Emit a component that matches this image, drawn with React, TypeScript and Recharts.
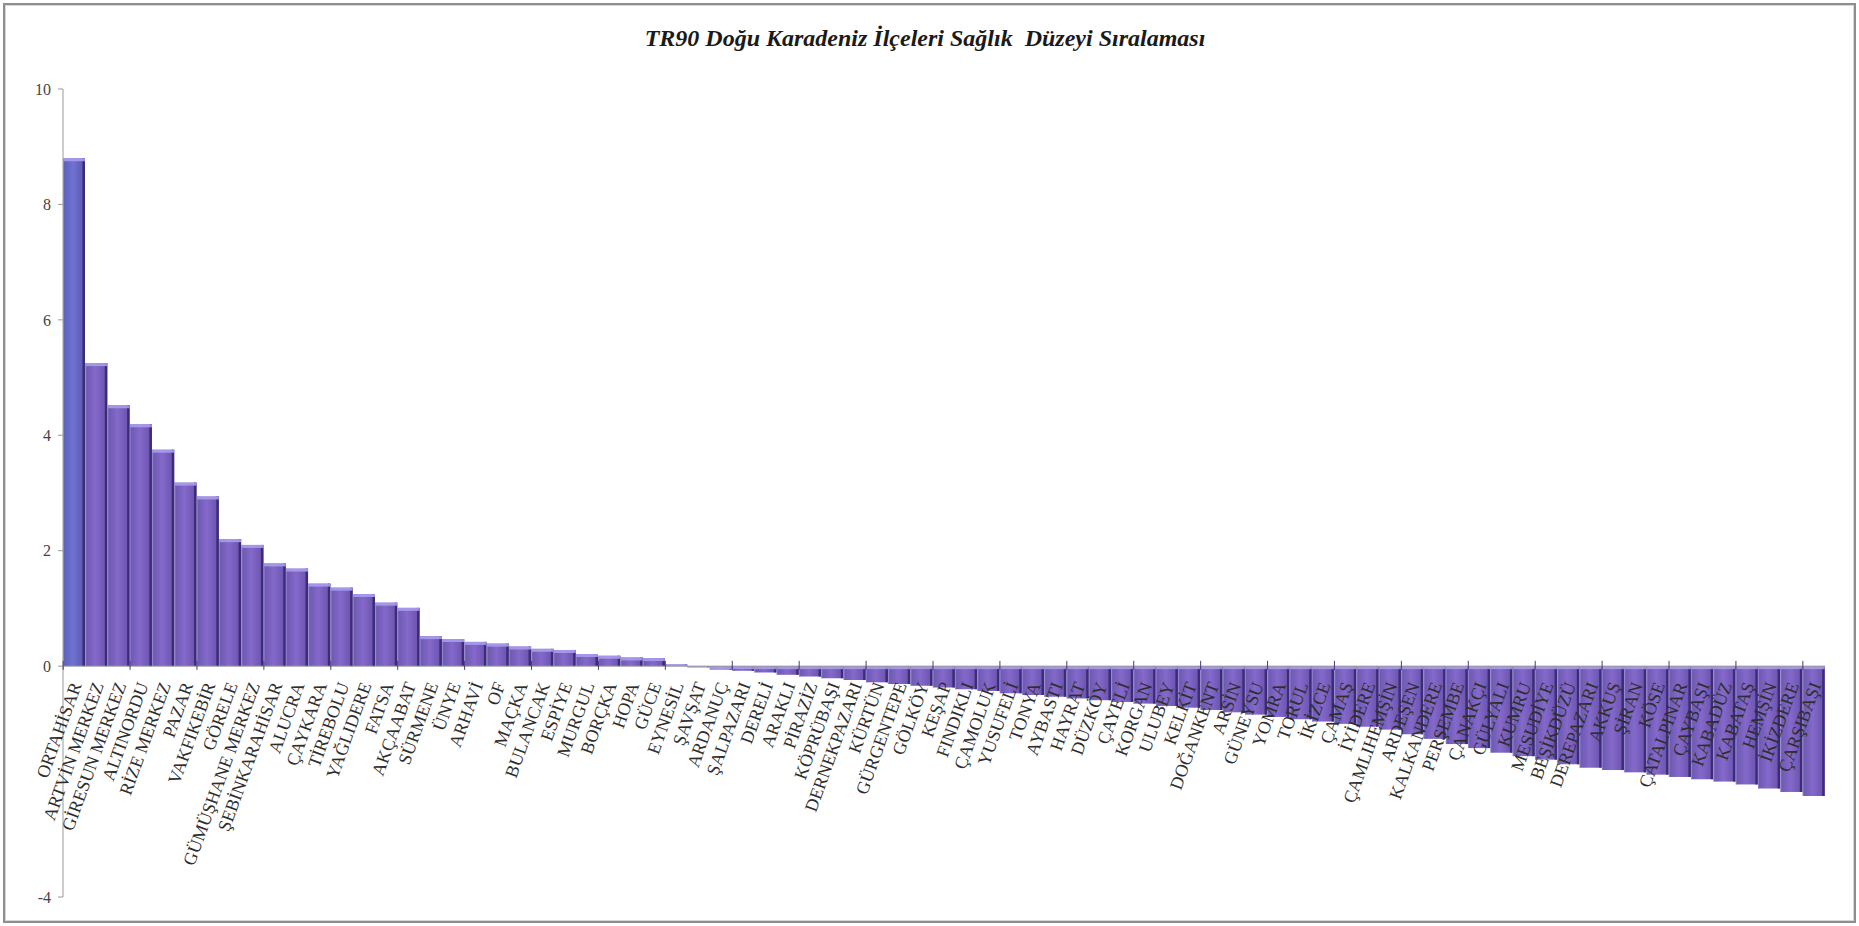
import { BarChart, Bar, XAxis, YAxis, ReferenceLine } from 'recharts';

// district names, in ranking order
const districts = [
  'ORTAHİSAR', 'ARTVİN MERKEZ', 'GİRESUN MERKEZ', 'ALTINORDU', 'RİZE MERKEZ', 'PAZAR',
  'VAKFIKEBİR', 'GÖRELE', 'GÜMÜŞHANE MERKEZ', 'ŞEBİNKARAHİSAR', 'ALUCRA', 'ÇAYKARA',
  'TİREBOLU', 'YAĞLIDERE', 'FATSA', 'AKÇAABAT', 'SÜRMENE', 'ÜNYE', 'ARHAVİ', 'OF',
  'MAÇKA', 'BULANCAK', 'ESPİYE', 'MURGUL', 'BORÇKA', 'HOPA', 'GÜCE', 'EYNESİL',
  'ŞAVŞAT', 'ARDANUÇ', 'ŞALPAZARI', 'DERELİ', 'ARAKLI', 'PİRAZİZ', 'KÖPRÜBAŞI',
  'DERNEKPAZARI', 'KÜRTÜN', 'GÜRGENTEPE', 'GÖLKÖY', 'KEŞAP', 'FINDIKLI', 'ÇAMOLUK',
  'YUSUFELİ', 'TONYA', 'AYBASTI', 'HAYRAT', 'DÜZKÖY', 'ÇAYELİ', 'KORGAN', 'ULUBEY',
  'KELKİT', 'DOĞANKENT', 'ARSİN', 'GÜNEYSU', 'YOMRA', 'TORUL', 'İKİZCE', 'ÇAMAŞ',
  'İYİDERE', 'ÇAMLIHEMŞİN', 'ARDEŞEN', 'KALKANDERE', 'PERŞEMBE', 'ÇANAKÇI', 'GÜLYALI',
  'KUMRU', 'MESUDİYE', 'BEŞİKDÜZÜ', 'DEREPAZARI', 'AKKUŞ', 'ŞİRAN', 'KÖSE',
  'ÇATALPINAR', 'ÇAYBAŞI', 'KABADÜZ', 'KABATAŞ', 'HEMŞİN', 'İKİZDERE', 'ÇARŞIBAŞI',
];

// health level score per district
const scores = [
  8.8, 5.25, 4.52, 4.19, 3.75, 3.18, 2.94, 2.2, 2.1, 1.78, 1.69, 1.43,
  1.36, 1.25, 1.1, 1.01, 0.52, 0.47, 0.42, 0.39, 0.34, 0.3, 0.28, 0.21,
  0.18, 0.15, 0.14, 0.03, -0.02, -0.06, -0.08, -0.11, -0.15, -0.18, -0.21,
  -0.24, -0.28, -0.31, -0.34, -0.37, -0.4, -0.43, -0.47, -0.5, -0.53,
  -0.56, -0.59, -0.62, -0.65, -0.69, -0.72, -0.76, -0.8, -0.84, -0.88,
  -0.92, -0.96, -1.0, -1.05, -1.1, -1.18, -1.26, -1.35, -1.42, -1.5,
  -1.56, -1.62, -1.7, -1.76, -1.8, -1.84, -1.88, -1.92, -1.96, -2.0,
  -2.05, -2.12, -2.18, -2.25,
];

const yTicks = [-4, 0, 2, 4, 6, 8, 10];
const yDomain = [-4, 10];

const W = 1859;
const H = 926;
const margin = { top: 89, right: 34, bottom: 28, left: 23 };
const plotH = H - margin.top - margin.bottom;
const zeroY = margin.top + plotH * (yDomain[1] / (yDomain[1] - yDomain[0]));

const data = districts.map((name, i) => ({ name, score: scores[i] }));

const serif = '"Liberation Serif", "DejaVu Serif", serif';

function Bar3D(props: any) {
  const { x, y, width, height, index } = props;
  if (width == null || height == null) return null;
  const top = height < 0 ? y + height : y;
  const h = Math.abs(height);
  if (h < 0.5) {
    return <rect x={x} y={top - 0.5} width={width} height={1.5} fill="#8a88a8" />;
  }
  return (
    <g>
      <rect
        x={x}
        y={top}
        width={width}
        height={h}
        fill={index === 0 ? 'url(#barFaceBlue)' : 'url(#barFace)'}
        fillOpacity={0.92}
      />
      <rect x={x + width - 2.5} y={top} width={2.5} height={h} fill="#36246f" fillOpacity={0.85} />
      <rect x={x} y={top} width={width} height={Math.min(3, h)} fill="#a99cec" fillOpacity={0.9} />
      <rect x={x} y={top} width={1} height={h} fill="#9c8ee0" fillOpacity={0.6} />
    </g>
  );
}

function DistrictTick(props: any) {
  const { x, payload, index } = props;
  const ax = x + 2;
  const ay = zeroY + 16;
  return (
    <g>
      {index % 3 === 0 && (
        <line x1={x - 11} x2={x - 11} y1={zeroY - 6} y2={zeroY + 3} stroke="#4a3a7a" strokeWidth={1} />
      )}
      <text
        x={ax}
        y={ay}
        transform={`rotate(-70, ${ax}, ${ay})`}
        textAnchor="end"
        dominantBaseline="central"
        fontFamily={serif}
        fontSize={18}
        fill="#2e2e2e"
      >
        {payload.value}
      </text>
    </g>
  );
}

export default function App() {
  return (
    <div style={{ position: 'fixed', left: 0, top: 0, width: W, height: H, background: '#fff' }}>
      <div
        style={{
          position: 'absolute',
          left: 3,
          top: 3,
          width: W - 10,
          height: H - 10,
          border: '2px solid #8e8e8e',
          boxShadow: 'inset 0 0 0 1px #d8d8d8',
        }}
      />
      <div
        style={{
          position: 'absolute',
          left: 0,
          width: 1850,
          top: 25,
          textAlign: 'center',
          fontFamily: serif,
          fontWeight: 'bold',
          fontStyle: 'italic',
          fontSize: 24,
          color: '#1a1a1a',
          whiteSpace: 'pre',
        }}
      >
        {'TR90 Doğu Karadeniz İlçeleri Sağlık  Düzeyi Sıralaması'}
      </div>
      <div style={{ position: 'absolute', left: 0, top: 0 }}>
        <BarChart width={W} height={H} data={data} margin={margin} barCategoryGap={0} barGap={0}>
          <defs>
            <linearGradient id="barFace" x1="0" y1="0" x2="1" y2="0">
              <stop offset="0%" stopColor="#5d4aa8" />
              <stop offset="45%" stopColor="#7a5cc6" />
              <stop offset="100%" stopColor="#5a42a3" />
            </linearGradient>
            <linearGradient id="barFaceBlue" x1="0" y1="0" x2="1" y2="0">
              <stop offset="0%" stopColor="#4f52b0" />
              <stop offset="45%" stopColor="#6466cf" />
              <stop offset="100%" stopColor="#4a48a6" />
            </linearGradient>
          </defs>
          <XAxis
            dataKey="name"
            height={1}
            axisLine={false}
            tickLine={false}
            interval={0}
            tick={<DistrictTick />}
          />
          <YAxis
            domain={yDomain}
            ticks={yTicks}
            width={40}
            tickSize={5}
            tickMargin={7}
            axisLine={{ stroke: '#9a9a9a' }}
            tickLine={{ stroke: '#9a9a9a' }}
            tick={{ fill: '#444', fontSize: 16, fontFamily: serif }}
          />
          <ReferenceLine y={0} stroke="#9a9a9a" />
          <Bar dataKey="score" shape={<Bar3D />} isAnimationActive={false} />
        </BarChart>
      </div>
    </div>
  );
}
